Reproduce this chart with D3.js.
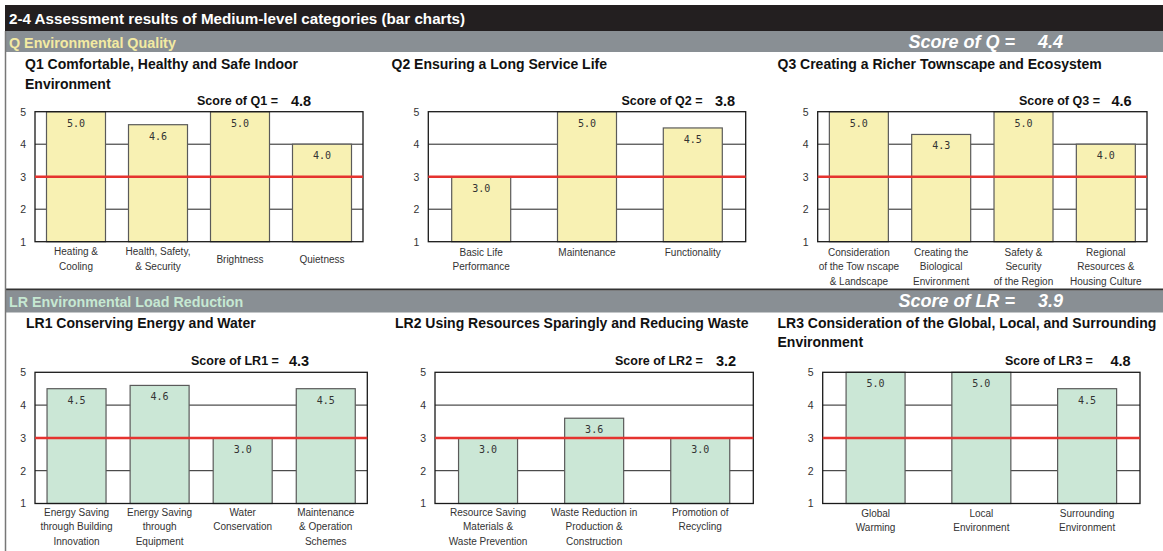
<!DOCTYPE html>
<html><head><meta charset="utf-8">
<script src="https://cdn.jsdelivr.net/npm/d3@7"></script>
<style>
body{margin:0;background:#fff}
svg{display:block;font-family:"Liberation Sans",Arial,sans-serif}
</style>
</head><body>
<svg id="c" width="1163" height="551"></svg>
<script>
// ---------- data ----------
const pageTitle = "2-4 Assessment results of Medium-level categories (bar charts)";
const sectionNames = ["Q Environmental Quality", "LR Environmental Load Reduction"];
const sectionScoreLabels = ["Score of Q =", "Score of LR ="];
const sectionScores = [4.4, 3.9];

const chartTitles = [
  ["Q1 Comfortable, Healthy and Safe Indoor", "Environment"],
  ["Q2 Ensuring a Long Service Life"],
  ["Q3 Creating a Richer Townscape and Ecosystem"],
  ["LR1 Conserving Energy and Water"],
  ["LR2 Using Resources Sparingly and Reducing Waste"],
  ["LR3 Consideration of the Global, Local, and Surrounding", "Environment"]
];
const chartScoreLabels = ["Score of Q1 =", "Score of Q2 =", "Score of Q3 =", "Score of LR1 =", "Score of LR2 =", "Score of LR3 ="];
const chartScores = [4.8, 3.8, 4.6, 4.3, 3.2, 4.8];

const q1Categories = ["Heating &\nCooling", "Health, Safety,\n& Security", "Brightness", "Quietness"];
const q1Values = [5.0, 4.6, 5.0, 4.0];
const q2Categories = ["Basic Life\nPerformance", "Maintenance", "Functionality"];
const q2Values = [3.0, 5.0, 4.5];
const q3Categories = ["Consideration\nof the Tow nscape\n& Landscape", "Creating the\nBiological\nEnvironment", "Safety &\nSecurity\nof the Region", "Regional\nResources &\nHousing Culture"];
const q3Values = [5.0, 4.3, 5.0, 4.0];
const lr1Categories = ["Energy Saving\nthrough Building\nInnovation", "Energy Saving\nthrough\nEquipment", "Water\nConservation", "Maintenance\n& Operation\nSchemes"];
const lr1Values = [4.5, 4.6, 3.0, 4.5];
const lr2Categories = ["Resource Saving\nMaterials &\nWaste Prevention", "Waste Reduction in\nProduction &\nConstruction", "Promotion of\nRecycling"];
const lr2Values = [3.0, 3.6, 3.0];
const lr3Categories = ["Global\nWarming", "Local\nEnvironment", "Surrounding\nEnvironment"];
const lr3Values = [5.0, 5.0, 4.5];

const yTickValues = [1, 2, 3, 4, 5];
const yDomain = [1, 5];
const referenceLevel = 3;

// ---------- layout / style ----------
const YELLOW = "#f8f1b3", GREEN = "#cbe7d6";
const charts = [
  {cats:q1Categories, vals:q1Values, fill:YELLOW, x0:35, x1:363, top:111.7, bottom:241.7, tx:25, ty:69, sx:197, vx:291, sy:104.5, mode:"center", labY:259},
  {cats:q2Categories, vals:q2Values, fill:YELLOW, x0:428.3, x1:745.7, top:111.7, bottom:241.7, tx:391.5, ty:69, sx:621.5, vx:715, sy:104.5, mode:"top", labY:252},
  {cats:q3Categories, vals:q3Values, fill:YELLOW, x0:817.7, x1:1147, top:111.7, bottom:241.7, tx:777.5, ty:69, sx:1019, vx:1111.5, sy:104.5, mode:"top", labY:252},
  {cats:lr1Categories, vals:lr1Values, fill:GREEN, x0:35, x1:367.3, top:372.3, bottom:503.5, tx:26, ty:327.5, sx:191, vx:289, sy:365, mode:"top", labY:512},
  {cats:lr2Categories, vals:lr2Values, fill:GREEN, x0:435, x1:753.3, top:372.3, bottom:503.5, tx:395, ty:327.5, sx:615, vx:716, sy:365, mode:"top", labY:512},
  {cats:lr3Categories, vals:lr3Values, fill:GREEN, x0:822.7, x1:1140, top:372.3, bottom:503.5, tx:777.5, ty:327.5, sx:1005, vx:1110.5, sy:364.5, mode:"top", labY:513}
];
const BAR_W = 59, LINE_H = 14.5;

const svg = d3.select("#c");

// frame
svg.append("rect").attr("x", 5).attr("y", 5).attr("width", 1158).attr("height", 26).attr("fill", "#231f20");
svg.append("text").attr("x", 9).attr("y", 23.5).attr("fill", "#fff").attr("font-weight", "bold").attr("font-size", 15.2).text(pageTitle);

const bands = [{y:31, h:21, ty:47.7, sy:48, color:"#f3eaa2"}, {y:290.5, h:22, ty:307, sy:306.5, color:"#c6e8d2"}];
bands.forEach((b, i) => {
  svg.append("rect").attr("x", 5).attr("y", b.y).attr("width", 1158).attr("height", b.h).attr("fill", "#898f94");
  svg.append("text").attr("x", 9).attr("y", b.ty).attr("fill", b.color).attr("font-weight", "bold").attr("font-size", 14.3).text(sectionNames[i]);
  svg.append("text").attr("x", 1015).attr("y", b.sy).attr("text-anchor", "end").attr("fill", "#fff").attr("font-weight", "bold").attr("font-style", "italic").attr("font-size", 18).text(sectionScoreLabels[i]);
  svg.append("text").attr("x", 1038).attr("y", b.sy).attr("fill", "#fff").attr("font-weight", "bold").attr("font-style", "italic").attr("font-size", 18).text(sectionScores[i].toFixed(1));
});
svg.append("line").attr("x1", 5).attr("x2", 1163).attr("y1", 289.5).attr("y2", 289.5).attr("stroke", "#333").attr("stroke-width", 2);
svg.append("line").attr("x1", 5.5).attr("x2", 5.5).attr("y1", 31).attr("y2", 551).attr("stroke", "#777").attr("stroke-width", 1.5);

charts.forEach((c, ci) => {
  const g = svg.append("g");
  // titles
  chartTitles[ci].forEach((t, li) => {
    g.append("text").attr("x", c.tx).attr("y", c.ty + li * 19.5).attr("font-weight", "bold").attr("font-size", 14).attr("fill", "#111").text(t);
  });
  g.append("text").attr("x", c.sx).attr("y", c.sy).attr("font-weight", "bold").attr("font-size", 12.5).attr("fill", "#111").text(chartScoreLabels[ci]);
  g.append("text").attr("x", c.vx).attr("y", c.sy + 1).attr("font-weight", "bold").attr("font-size", 14.5).attr("fill", "#111").text(chartScores[ci].toFixed(1));

  const n = c.cats.length;
  const step = (c.x1 - c.x0) / n;
  const p = 1 - BAR_W / step;
  const x = d3.scaleBand().domain(d3.range(n)).range([c.x0, c.x1]).paddingInner(p).paddingOuter(p / 2);
  const y = d3.scaleLinear().domain(yDomain).range([c.bottom, c.top]);

  // plot background & grid
  g.append("rect").attr("x", c.x0).attr("y", c.top).attr("width", c.x1 - c.x0).attr("height", c.bottom - c.top).attr("fill", "#fff");
  g.selectAll(".grid").data(yTickValues.filter(v => v > yDomain[0] && v < yDomain[1])).enter().append("line")
    .attr("x1", c.x0).attr("x2", c.x1).attr("y1", d => y(d)).attr("y2", d => y(d))
    .attr("stroke", "#222").attr("stroke-width", 1);

  // bars
  g.selectAll(".bar").data(c.vals).enter().append("rect")
    .attr("x", (d, i) => x(i)).attr("width", x.bandwidth())
    .attr("y", d => y(d)).attr("height", d => y(yDomain[0]) - y(d))
    .attr("fill", c.fill).attr("stroke", "#5a5a5a").attr("stroke-width", 1.2);

  // border
  g.append("rect").attr("x", c.x0).attr("y", c.top).attr("width", c.x1 - c.x0).attr("height", c.bottom - c.top)
    .attr("fill", "none").attr("stroke", "#1a1a1a").attr("stroke-width", 1.3);

  // reference line
  g.append("line").attr("x1", c.x0).attr("x2", c.x1).attr("y1", y(referenceLevel)).attr("y2", y(referenceLevel))
    .attr("stroke", "#e5332f").attr("stroke-width", 2.5);

  // value labels
  g.selectAll(".val").data(c.vals).enter().append("text")
    .attr("x", (d, i) => x(i) + x.bandwidth() / 2).attr("y", d => y(d) + 15)
    .attr("text-anchor", "middle").attr("font-family", "'DejaVu Sans Mono', monospace").attr("font-size", 10)
    .attr("fill", "#333").text(d => d.toFixed(1));

  // y axis
  const ax = g.append("g").attr("transform", `translate(${c.x0},0)`)
    .call(d3.axisLeft(y).tickValues(yTickValues).tickSize(0).tickPadding(9).tickFormat(d3.format("d")));
  ax.select(".domain").remove();
  ax.selectAll("text").attr("font-family", "'Liberation Sans', Arial, sans-serif").attr("font-size", 10.5).attr("fill", "#333");

  // category labels
  c.cats.forEach((lab, i) => {
    const lines = lab.split("\n");
    const cx = x(i) + x.bandwidth() / 2;
    const firstCenter = c.mode === "center" ? c.labY - (lines.length - 1) * LINE_H / 2 : c.labY;
    const t = g.append("text").attr("text-anchor", "middle").attr("font-size", 10).attr("fill", "#333");
    lines.forEach((ln, li) => {
      t.append("tspan").attr("x", cx).attr("y", firstCenter + li * LINE_H + 3.6).text(ln);
    });
  });
});
</script>
</body></html>
